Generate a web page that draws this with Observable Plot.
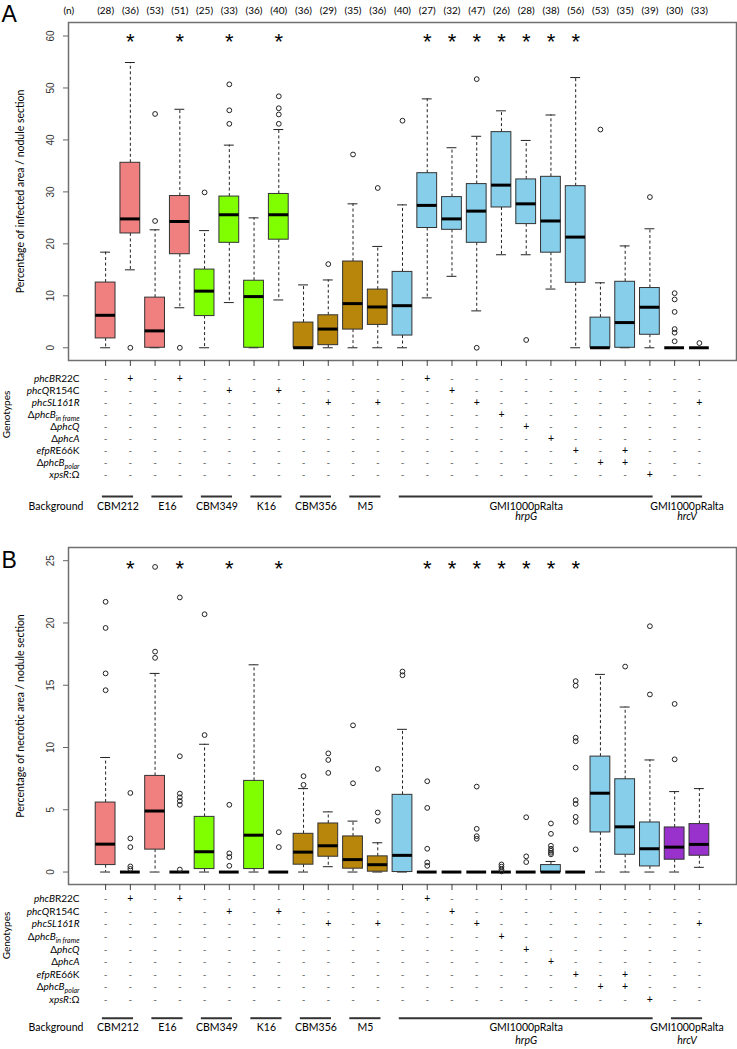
<!DOCTYPE html>
<html><head><meta charset="utf-8">
<script src="https://cdn.jsdelivr.net/npm/d3@7"></script>
<script src="https://cdn.jsdelivr.net/npm/@observablehq/plot@0.6"></script>
<style>
body{margin:0;background:#fff;}
#chart svg{display:block;}
</style></head><body><div id="chart"></div>
<script>
// ---------- data ----------
const positions = d3.range(1, 26);
const nCounts = [28,36,53,51,25,33,36,40,36,29,35,36,40,27,32,47,26,28,38,56,53,35,39,30,33];
const backgroundNames = ["CBM212","E16","CBM349","K16","CBM356","M5","GMI1000pRalta","GMI1000pRalta"];
const backgroundSubs = ["","","","","","","hrpG","hrcV"];
const backgroundSizes = [2,2,2,2,2,2,11,2];
const backgroundColors = ["#F08080","#F08080","#7FFF00","#7FFF00","#B8860B","#B8860B","#87CEEB","#9932CC"];
const genotypeRows = ["<i>phcB</i>R22C","<i>phcQ</i>R154C","<i>phcSL161R</i>","Δ<i>phcB</i><sub>in frame</sub>","Δ<i>phcQ</i>","Δ<i>phcA</i>","<i>efpR</i>E66K","Δ<i>phcB</i><sub>polar</sub>","<i>xpsR</i>:Ω"];
const plusRows = [[],[0],[],[0],[],[1],[],[1],[],[2],[],[2],[],[0],[1],[2],[3],[4],[5],[6],[7],[6,7],[8],[],[2]];
const significant = [2,4,6,8,14,15,16,17,18,19,20];

// Panel A: infected area (%)
const infLo  = [0,15.0,0,7.7,0,8.7,0,9.2,0,0,0,0,0,9.6,13.75,7.1,17.9,17.9,11.3,0,0,0,0,0,0];
const infQ1  = [1.8,22.0,0,18.0,6.1,20.2,0,20.8,0,0.5,3.5,4.4,2.35,23.05,22.7,20.2,27.0,23.8,18.3,12.5,0,0,2.5,0,0];
const infMed = [6.25,24.8,3.25,24.3,10.9,25.6,9.85,25.6,0,3.6,8.5,7.85,8.1,27.4,24.8,26.3,31.3,27.7,24.4,21.3,0,4.85,7.8,0,0];
const infQ3  = [12.55,35.6,9.65,29.2,15.05,29.1,12.9,29.6,4.85,6.25,16.6,11.2,14.6,33.6,29.0,31.5,41.5,32.4,32.9,31.1,5.8,12.7,11.5,0,0];
const infHi  = [18.4,54.9,22.7,45.9,22.55,39.0,25.0,42.0,12.1,13.05,27.7,19.5,27.5,47.9,38.5,40.7,45.6,39.9,44.8,52.0,12.5,19.6,22.9,0,0];
const infOut = [[],[0],[24.4,45.0],[0],[29.9],[43.1,45.7,50.7],[],[43.1,44.9,46.1,48.4],[],[16.1],[37.2],[30.75],[43.7],[],[],[0,51.7],[],[1.5],[],[],[42.0],[],[29.0],[1.25,2.9,3.6,6.9,9.3,10.5],[0.9]];
const infTicks = [0,10,20,30,40,50,60];

// Panel B: necrotic area (%)
const necLo  = [0,0,0,0,0,0,0,0,0,0.43,0,0,0,0,0,0,0,0,0,0,0,0,0,0,0.38];
const necQ1  = [0.56,0,1.8,0,0.24,0,0.24,0,0.59,1.23,0.27,0.03,0,0,0,0,0,0,0,0,3.18,1.39,0.45,0.99,1.31];
const necMed = [2.24,0,4.9,0,1.63,0,2.96,0,1.6,2.11,1.0,0.59,1.34,0,0,0,0,0,0,0,6.33,3.63,1.87,2.0,2.22];
const necQ3  = [5.58,0,7.72,0,4.43,0,7.32,0,3.07,3.9,2.86,1.26,6.2,0,0,0,0,0,0.56,0,9.27,7.45,3.98,3.58,3.85];
const necHi  = [9.2,0,15.95,0,10.26,0,16.64,0,6.7,4.83,4.09,2.35,11.46,0,0,0,0,0,0.85,0,15.87,13.25,9.0,6.46,6.7];
const necOut = [[14.6,15.95,19.6,21.7],[0.25,0.45,2.0,2.7,6.35],[17.2,17.7,24.5],[0.2,5.4,5.7,6.0,6.3,9.3,22.05],[11.0,20.7],[0.5,1.2,1.5,5.4],[],[2.0,3.2],[7.0,7.7],[7.96,9.0,9.53],[7.13,11.78],[4.11,4.78,8.28],[15.8,16.1],[0.5,0.77,1.87,5.15,7.29],[],[2.67,2.88,3.47,6.86],[0.05,0.21,0.43,0.61],[0.8,1.26,4.4],[1.42,1.55,1.71,1.87,2.11,3.07,3.9],[1.82,4.03,4.43,5.47,5.77,8.39,10.5,10.79,14.96,15.33],[],[16.5],[14.26,19.74],[9.05,13.5],[]];
const necTicks = [0,5,10,15,20,25];

// ---------- derived tables ----------
const groups = [];
{ let s = 1; backgroundNames.forEach((name, g) => {
  groups.push({name, sub: backgroundSubs[g], first: s, last: s + backgroundSizes[g] - 1, color: backgroundColors[g]});
  s += backgroundSizes[g];
}); }
const colColor = positions.map(p => groups.find(g => p >= g.first && p <= g.last).color);

function parseMarkup(str) {
  const segs = []; const re = /<(i|sub)>(.*?)<\/\1>|([^<]+)/g; let m;
  while ((m = re.exec(str))) segs.push(m[3] ? {t: m[3], k: ""} : {t: m[2], k: m[1]});
  return segs;
}
const plain = s => s.replace(/<[^>]+>/g, "");

function panel(cfg) {
  const cols = positions.map((p, i) => ({pos: p, lo: cfg.lo[i], q1: cfg.q1[i], med: cfg.med[i], q3: cfg.q3[i], hi: cfg.hi[i], color: colColor[i]}));
  const outs = positions.flatMap((p, i) => cfg.out[i].map(v => ({pos: p, v})));
  const y0 = cfg.yDomain[0];
  const marks = [
    Plot.frame({stroke: "#707070", strokeWidth: 1.5}),
    Plot.axisX(positions, {tickSize: 6, tickFormat: () => "", label: null, stroke: "#444"}),
    Plot.axisY(cfg.ticks, {tickSize: 5, tickFormat: () => "", label: null, stroke: "#666"}),
    Plot.text(cfg.ticks, {y: d => d, frameAnchor: "left", dx: -18, rotate: -90, textAnchor: "middle", text: d => String(d), fontSize: 10, fontFamily: "Liberation Sans", fill: "#333"}),
    Plot.text([cfg.title], {frameAnchor: "left", dx: -48, rotate: -90, textAnchor: "middle", text: d => d, fontSize: 10.5}),
    Plot.ruleX(cols, {x: "pos", y1: "q3", y2: "hi", stroke: "#222", strokeDasharray: "3,2.5"}),
    Plot.ruleX(cols, {x: "pos", y1: "q1", y2: "lo", stroke: "#222", strokeDasharray: "3,2.5"}),
    Plot.ruleY(cols, {y: "hi", x1: d => d.pos - 0.2, x2: d => d.pos + 0.2, stroke: "#222"}),
    Plot.ruleY(cols, {y: "lo", x1: d => d.pos - 0.2, x2: d => d.pos + 0.2, stroke: "#222"}),
    Plot.rect(cols, {x1: d => d.pos - 0.4, x2: d => d.pos + 0.4, y1: "q1", y2: "q3", fill: "color", stroke: "#333", strokeWidth: 1}),
    Plot.ruleY(cols, {y: "med", x1: d => d.pos - 0.4, x2: d => d.pos + 0.4, stroke: "#000", strokeWidth: 3}),
    Plot.dot(outs, {x: "pos", y: "v", r: 2.4, stroke: "#222", fill: "none", strokeWidth: 1}),
    Plot.text(significant, {x: d => d, y: () => cfg.starY, text: () => "*", fontSize: 22, dy: 6, fontFamily: "Liberation Sans"}),
    Plot.text([cfg.letter], {frameAnchor: "top-left", dx: -67, dy: cfg.letterDy, text: d => d, textAnchor: "start", lineAnchor: "bottom", fontSize: 23, fontFamily: "Liberation Sans"}),
    // genotype table
    Plot.text(["Genotypes"], {frameAnchor: "bottom-left", dx: -59, dy: cfg.genoDy, rotate: -90, textAnchor: "middle", text: d => d, fontSize: 10}),
    Plot.text(["Background"], {frameAnchor: "bottom-left", dx: -40, dy: cfg.bgDy, text: d => d, textAnchor: "start", fontSize: 10.5}),
    Plot.ruleY(groups, {x1: d => d.first - 0.13, x2: d => d.last + 0.13, y: () => y0, dy: cfg.lineDy, stroke: "#333", strokeWidth: 2}),
    Plot.text(groups, {x: d => (d.first + d.last) / 2, frameAnchor: "bottom", dy: cfg.bgDy, text: "name", fontSize: 10.5}),
    Plot.text(groups.filter(g => g.sub), {x: d => (d.first + d.last) / 2, frameAnchor: "bottom", dy: cfg.subDy, text: "sub", fontSize: 10.5, fontStyle: "italic"}),
  ];
  genotypeRows.forEach((label, r) => {
    const dy = cfg.rowDy0 + r * cfg.rowStep;
    marks.push(Plot.text([label], {frameAnchor: "bottom-left", dx: 11, dy, text: d => plain(d), textAnchor: "end", fontSize: 10}));
    marks.push(Plot.text(positions.filter(p => plusRows[p - 1].includes(r)), {x: d => d, frameAnchor: "bottom", dy, text: () => "+", fontSize: 10.5, fill: "#000"}));
    marks.push(Plot.text(positions.filter(p => !plusRows[p - 1].includes(r)), {x: d => d, frameAnchor: "bottom", dy, text: () => "-", fontSize: 10, fill: "#555"}));
  });
  if (cfg.showN) {
    marks.push(Plot.text(positions, {x: d => d, frameAnchor: "top", dy: -15.5, text: d => `(${nCounts[d - 1]})`, fontSize: 10}));
    marks.push(Plot.text(["(n)"], {frameAnchor: "top-left", dx: -5, dy: -15.5, text: d => d, fontSize: 10}));
  }
  const svg = Plot.plot({
    width: 737, height: cfg.height,
    marginLeft: 68, marginRight: 1, marginTop: cfg.marginTop, marginBottom: cfg.marginBottom,
    x: {domain: [-0.5, 26.5]},
    y: {domain: cfg.yDomain},
    color: {type: "identity"},
    style: {fontFamily: "Lato", fontSize: "10px", background: "#fff", overflow: "visible"},
    marks
  });
  // rich text for genotype labels (italic, subscripts)
  const plains = genotypeRows.map(plain);
  d3.select(svg).selectAll("text").each(function() {
    const idx = plains.indexOf(this.textContent);
    if (idx < 0) return;
    const t = d3.select(this); t.text("");
    parseMarkup(genotypeRows[idx]).forEach(s => {
      const ts = t.append("tspan").text(s.t);
      if (s.k === "i") ts.attr("font-style", "italic");
      if (s.k === "sub") ts.attr("font-style", "italic").attr("font-size", "7px").attr("dy", "3");
    });
  });
  return svg;
}

const chart = document.getElementById("chart");
chart.appendChild(panel({
  letter: "A", title: "Percentage of infected area / nodule section",
  lo: infLo, q1: infQ1, med: infMed, q3: infQ3, hi: infHi, out: infOut, ticks: infTicks,
  yDomain: [-2.45, 62.6], starY: 60, showN: true,
  height: 525, marginTop: 22, marginBottom: 165,
  rowDy0: 21, rowStep: 12.1, lineDy: 136, bgDy: 149, subDy: 159.5, genoDy: 54, letterDy: -1
}));
chart.appendChild(panel({
  letter: "B", title: "Percentage of necrotic area / nodule section",
  lo: necLo, q1: necQ1, med: necMed, q3: necQ3, hi: necHi, out: necOut, ticks: necTicks,
  yDomain: [-1.0, 26.06], starY: 24.8, showN: false,
  height: 524, marginTop: 22, marginBottom: 165,
  rowDy0: 17.7, rowStep: 12.6, lineDy: 133.7, bgDy: 146.3, subDy: 159.3, genoDy: 51, letterDy: 20
}));
</script></body></html>
